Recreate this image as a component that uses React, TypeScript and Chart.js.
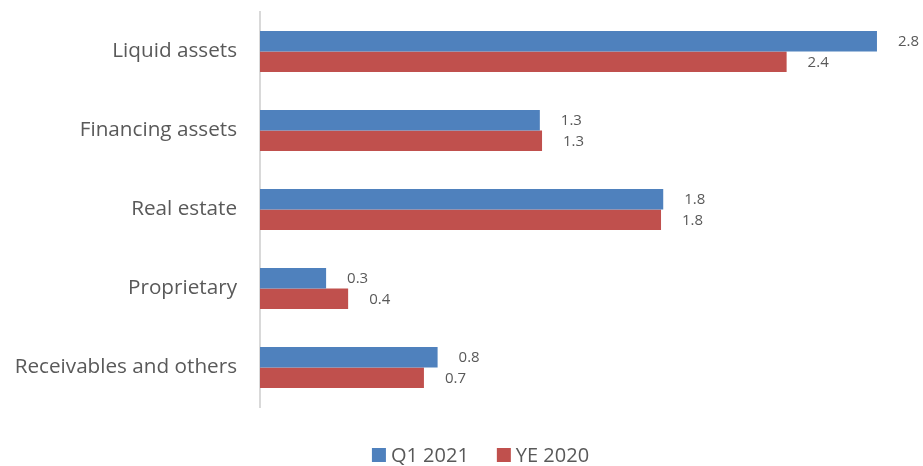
import React, { useEffect, useRef } from "react";
import { Chart, registerables } from "chart.js";

Chart.register(...registerables);

const categories = [
  "Liquid assets",
  "Financing assets",
  "Real estate",
  "Proprietary",
  "Receivables and others",
];
const seriesNames = ["Q1 2021", "YE 2020"];
const q1_2021 = [2.8, 1.27, 1.83, 0.3, 0.806];
const ye_2020 = [2.39, 1.28, 1.82, 0.4, 0.744];
const seriesColors = ["#4F81BD", "#C0504D"];

const FONT = "'Open Sans', 'Noto Sans', sans-serif";
const TEXT = "#595959";

const labelPlugin = {
  id: "valueLabels",
  afterDatasetsDraw(chart: any) {
    const ctx = chart.ctx;
    ctx.save();
    ctx.font = `15px ${FONT}`;
    ctx.fillStyle = TEXT;
    ctx.textAlign = "left";
    ctx.textBaseline = "middle";
    chart.data.datasets.forEach((ds: any, i: number) => {
      const meta = chart.getDatasetMeta(i);
      meta.data.forEach((bar: any, j: number) => {
        const v = ds.data[j] as number;
        ctx.fillText(v.toFixed(1), bar.x + 21, bar.y + 1);
      });
    });
    ctx.restore();
  },
};

const legendPlugin = {
  id: "customLegend",
  afterDraw(chart: any) {
    const ctx = chart.ctx;
    ctx.save();
    ctx.font = `20px ${FONT}`;
    ctx.textBaseline = "middle";
    ctx.textAlign = "left";
    const box = 14;
    const gap = 5;
    const spacing = 28;
    const names: string[] = chart.data.datasets.map((d: any) => d.label);
    const widths = names.map((n) => ctx.measureText(n).width);
    const total =
      widths.reduce((a: number, w: number) => a + w + box + gap, 0) +
      spacing * (names.length - 1);
    let x = 480.5 - total / 2;
    const cy = 455;
    names.forEach((n, i) => {
      ctx.fillStyle = chart.data.datasets[i].backgroundColor;
      ctx.fillRect(x, cy - box / 2, box, box);
      x += box + gap;
      ctx.fillStyle = TEXT;
      ctx.fillText(n, x, cy + 1);
      x += widths[i] + spacing;
    });
    ctx.restore();
  },
};

export default function App() {
  const ref = useRef<HTMLCanvasElement>(null);
  useEffect(() => {
    if (!ref.current) return;
    const chart = new Chart(ref.current, {
      type: "bar",
      data: {
        labels: categories,
        datasets: [
          {
            label: seriesNames[0],
            data: q1_2021,
            backgroundColor: seriesColors[0],
            barPercentage: 1,
            categoryPercentage: 0.52,
          },
          {
            label: seriesNames[1],
            data: ye_2020,
            backgroundColor: seriesColors[1],
            barPercentage: 1,
            categoryPercentage: 0.52,
          },
        ],
      },
      options: {
        indexAxis: "y",
        animation: false,
        responsive: true,
        maintainAspectRatio: false,
        layout: { padding: { top: 12, right: 24, bottom: 59, left: 0 } },
        plugins: {
          legend: { display: false },
          tooltip: { enabled: false },
        },
        scales: {
          x: { display: false, min: 0, max: 2.9 },
          y: {
            grid: { display: false, drawTicks: false },
            border: { display: true, color: "#d9d9d9", width: 2 },
            ticks: {
              color: TEXT,
              font: { family: FONT, size: 20.7 },
              padding: 23,
            },
            afterFit(scale: any) {
              scale.width = 260;
              scale.paddingTop = 0;
              scale.paddingBottom = 0;
            },
          },
        },
      },
      plugins: [labelPlugin, legendPlugin],
    });
    return () => chart.destroy();
  }, []);
  return (
    <div
      style={{
        position: "fixed",
        left: 0,
        top: 0,
        width: 923,
        height: 466,
        background: "#ffffff",
      }}
    >
      <canvas ref={ref} />
    </div>
  );
}
